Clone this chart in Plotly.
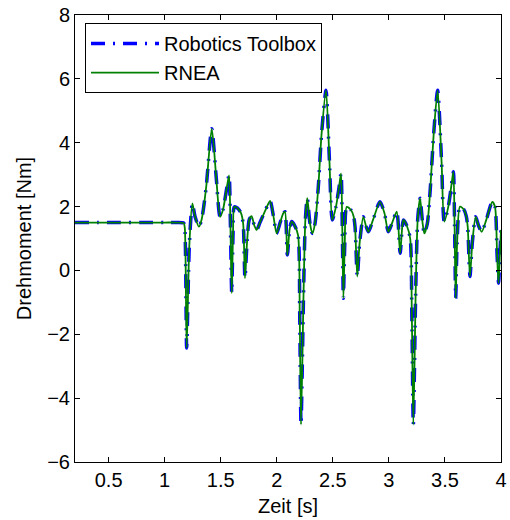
import plotly.graph_objects as go

# Time [s]
t = [0.2, 0.4, 0.6, 0.8, 1.0, 1.1, 1.17, 1.18, 1.196, 1.22, 1.247, 1.27, 1.306, 1.33, 1.37, 1.42,
     1.46, 1.494, 1.52, 1.55, 1.574, 1.586, 1.598, 1.61, 1.621, 1.65, 1.68, 1.70, 1.716, 1.735,
     1.755, 1.776, 1.80, 1.821, 1.85, 1.90, 1.94, 1.97, 1.999, 2.03, 2.058, 2.073, 2.094, 2.115,
     2.133, 2.16, 2.19, 2.205, 2.216, 2.24, 2.255, 2.272, 2.295, 2.317, 2.341, 2.37, 2.40, 2.439,
     2.47, 2.495, 2.528, 2.555, 2.573, 2.584, 2.594, 2.606, 2.624, 2.66, 2.685, 2.698, 2.718,
     2.74, 2.772, 2.795, 2.817, 2.86, 2.92, 2.96, 2.995, 3.03, 3.07, 3.10, 3.12, 3.13, 3.16,
     3.19, 3.205, 3.218, 3.24, 3.257, 3.278, 3.30, 3.316, 3.343, 3.37, 3.40, 3.435, 3.47, 3.494,
     3.53, 3.555, 3.575, 3.586, 3.596, 3.608, 3.634, 3.67, 3.69, 3.703, 3.723, 3.745, 3.774,
     3.80, 3.828, 3.87, 3.922, 3.946, 3.965, 3.978, 3.99, 4.0]

# Torque, Robotics Toolbox [Nm]
tau_toolbox = [1.5, 1.5, 1.5, 1.5, 1.5, 1.5, 1.48, 1.3, -2.43, 0.8, 2.1, 1.7, 1.37, 1.6, 2.6, 4.44,
               2.9, 1.68, 1.9, 2.5, 2.98, 1.5, -0.71, 1.2, 1.99, 1.95, 1.8, 1.47, -0.24, 0.9,
               1.6, 1.70, 1.4, 1.27, 1.5, 1.9, 2.18, 1.7, 1.16, 1.5, 1.79, 1.84, 0.48, 1.3,
               1.53, 1.4, 1.1, -1.5, -4.83, -0.5, 1.6, 2.26, 1.5, 1.16, 1.47, 2.6, 4.3, 5.64,
               3.4, 1.58, 2.0, 2.6, 3.04, 1.4, -0.87, 0.8, 1.99, 1.9, 1.7, 1.37, -0.19,
               0.9, 1.68, 1.4, 1.21, 1.6, 2.15, 1.8, 1.21, 1.5, 1.84, 0.54, 1.4, 1.58, 1.4,
               1.0, -1.5, -4.83, -0.5, 1.6, 2.26, 1.5, 1.16, 1.47, 2.6, 4.3, 5.64, 3.4, 1.53,
               2.0, 2.6, 3.09, 1.4, -0.87, 0.8, 2.0, 1.9, 1.7, 1.37, -0.19, 0.9, 1.68,
               1.4, 1.21, 1.6, 2.15, 2.0, 0.5, -0.4, 0.5, 1.27]

# Torque, RNEA [Nm] (identical to the toolbox result)
tau_rnea = list(tau_toolbox)

x_ticks = [0.5, 1, 1.5, 2, 2.5, 3, 3.5, 4]
x_tick_labels = ["0.5", "1", "1.5", "2", "2.5", "3", "3.5", "4"]
y_ticks = [-6, -4, -2, 0, 2, 4, 6, 8]

FONT = "Liberation Sans, Arial, Helvetica, sans-serif"

fig = go.Figure()
fig.add_trace(go.Scatter(
    x=t, y=tau_toolbox, mode="lines", name="Robotics Toolbox",
    line=dict(color="#0000ff", width=3.5, dash="14px,8px,2px,8px", shape="spline", smoothing=0.7),
))
fig.add_trace(go.Scatter(
    x=t, y=tau_rnea, mode="lines", name="RNEA",
    line=dict(color="#008000", width=1.8, shape="spline", smoothing=0.7),
))

axis_common = dict(
    showline=True, mirror="ticks", linecolor="black", linewidth=1,
    ticks="inside", ticklen=5, tickcolor="black", showgrid=False, zeroline=False,
    tickfont=dict(family=FONT, size=20, color="black"), automargin=False,
    ticklabeloverflow="allow",
)
fig.update_xaxes(range=[0.2, 4], tickvals=x_ticks, ticktext=x_tick_labels,
                 title=dict(text="Zeit [s]", font=dict(family=FONT, size=20, color="black"), standoff=8),
                 **axis_common)
fig.update_yaxes(range=[-6, 8], tickvals=y_ticks,
                 title=dict(text="Drehmoment [Nm]", font=dict(family=FONT, size=20, color="black"), standoff=10),
                 **axis_common)

fig.update_layout(
    width=510, height=520,
    margin=dict(l=75, r=9, t=15, b=58, autoexpand=False),
    plot_bgcolor="white", paper_bgcolor="white",
    font=dict(family=FONT, size=20, color="black"),
    legend=dict(x=0.0235, y=0.982, xanchor="left", yanchor="top",
                bgcolor="white", bordercolor="black", borderwidth=1,
                font=dict(family=FONT, size=20, color="black"),
                itemwidth=68, tracegroupgap=0),
    showlegend=True,
)

# remove the browser's default body margin so the figure sits at the page origin
fig.write_html("out.html", config={"displayModeBar": False},
               post_script="document.body.style.margin='0';document.body.style.overflow='hidden';")
